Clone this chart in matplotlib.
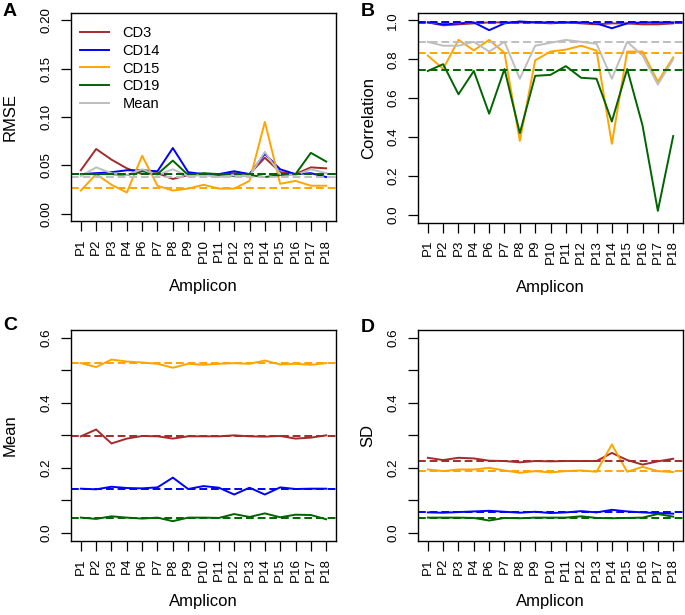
import matplotlib
matplotlib.use("Agg")
import matplotlib.pyplot as plt

plt.rcParams["font.family"] = ["Liberation Sans", "DejaVu Sans"]

amplicons = ["P1", "P2", "P3", "P4", "P6", "P7", "P8", "P9", "P10",
             "P11", "P12", "P13", "P14", "P15", "P16", "P17", "P18"]
series_names = ["CD3", "CD14", "CD15", "CD19", "Mean"]

# Panel A - RMSE
rmse_cd3 = [0.045, 0.067, 0.056, 0.047, 0.041, 0.042, 0.036, 0.040, 0.041,
            0.040, 0.042, 0.041, 0.058, 0.043, 0.041, 0.048, 0.047]
rmse_cd14 = [0.041, 0.042, 0.043, 0.045, 0.045, 0.044, 0.068, 0.043, 0.041,
             0.041, 0.044, 0.041, 0.062, 0.046, 0.041, 0.042, 0.038]
rmse_cd15 = [0.024, 0.041, 0.030, 0.022, 0.060, 0.029, 0.024, 0.026, 0.030,
             0.026, 0.026, 0.034, 0.095, 0.031, 0.034, 0.029, 0.029]
rmse_cd19 = [0.041, 0.041, 0.041, 0.040, 0.044, 0.041, 0.055, 0.040, 0.042,
             0.041, 0.039, 0.040, 0.038, 0.040, 0.041, 0.063, 0.054]
rmse_mean = [0.039, 0.048, 0.042, 0.040, 0.046, 0.040, 0.046, 0.039, 0.040,
             0.038, 0.040, 0.039, 0.064, 0.041, 0.040, 0.046, 0.042]
rmse_ref = [0.041, 0.041, 0.027, 0.041, 0.038]

# Panel B - correlation
cor_cd3 = [0.990, 0.975, 0.980, 0.985, 0.990, 0.990, 0.990, 0.990, 0.985,
           0.990, 0.985, 0.980, 0.985, 0.985, 0.980, 0.980, 0.985]
cor_cd14 = [0.990, 0.980, 0.985, 0.990, 0.950, 0.985, 0.995, 0.990, 0.990,
            0.990, 0.990, 0.985, 0.960, 0.985, 0.990, 0.990, 0.990]
cor_cd15 = [0.819, 0.751, 0.900, 0.846, 0.900, 0.833, 0.380, 0.795, 0.840,
            0.850, 0.870, 0.845, 0.365, 0.840, 0.840, 0.685, 0.810]
cor_cd19 = [0.740, 0.775, 0.620, 0.740, 0.520, 0.750, 0.420, 0.715, 0.720,
            0.765, 0.705, 0.700, 0.480, 0.750, 0.460, 0.020, 0.405]
cor_mean = [0.890, 0.870, 0.870, 0.890, 0.840, 0.890, 0.700, 0.870, 0.885,
            0.900, 0.890, 0.880, 0.700, 0.890, 0.820, 0.670, 0.800]
cor_ref = [0.987, 0.990, 0.835, 0.745, 0.890]

# Panel C - mean
mean_cd3 = [0.297, 0.318, 0.275, 0.290, 0.298, 0.297, 0.290, 0.297, 0.297,
            0.297, 0.300, 0.297, 0.296, 0.298, 0.290, 0.293, 0.300]
mean_cd14 = [0.136, 0.134, 0.142, 0.138, 0.137, 0.140, 0.170, 0.135, 0.144,
             0.139, 0.118, 0.139, 0.118, 0.140, 0.135, 0.136, 0.136]
mean_cd15 = [0.522, 0.510, 0.533, 0.527, 0.524, 0.520, 0.508, 0.520, 0.517,
             0.520, 0.522, 0.520, 0.530, 0.518, 0.520, 0.517, 0.522]
mean_cd19 = [0.047, 0.043, 0.051, 0.047, 0.044, 0.047, 0.036, 0.047, 0.047,
             0.046, 0.058, 0.049, 0.060, 0.048, 0.056, 0.055, 0.042]
mean_ref = [0.297, 0.136, 0.522, 0.047]

# Panel D - SD
sd_cd3 = [0.231, 0.224, 0.231, 0.229, 0.222, 0.221, 0.217, 0.221, 0.220,
          0.221, 0.221, 0.221, 0.246, 0.224, 0.210, 0.220, 0.228]
sd_cd14 = [0.063, 0.062, 0.064, 0.066, 0.068, 0.065, 0.062, 0.065, 0.061,
           0.063, 0.067, 0.063, 0.071, 0.066, 0.063, 0.061, 0.059]
sd_cd15 = [0.195, 0.190, 0.195, 0.195, 0.200, 0.192, 0.185, 0.190, 0.186,
           0.190, 0.192, 0.188, 0.272, 0.188, 0.203, 0.190, 0.187]
sd_cd19 = [0.047, 0.047, 0.047, 0.046, 0.038, 0.046, 0.045, 0.047, 0.047,
           0.047, 0.051, 0.046, 0.045, 0.046, 0.047, 0.058, 0.050]
sd_ref = [0.222, 0.064, 0.190, 0.045]

COLORS = ["#A52A2A", "#0000FF", "#FFA500", "#006400", "#BEBEBE"]

W, H = 685, 615


def px_axes(fig, left, top, right, bottom):
    return fig.add_axes([left / W, 1 - bottom / H,
                         (right - left) / W, (bottom - top) / H])


def draw_panel(ax, series, refs, ymax, yticks, ylabels, ylabel, ylab_x,
               xlab_y):
    x = list(range(1, len(amplicons) + 1))
    for i, vals in enumerate(series):
        ax.plot(x, vals, color=COLORS[i], lw=1.4, label=series_names[i])
    for i, r in enumerate(refs):
        ax.axhline(r, color=COLORS[i], lw=1.4, dashes=(4, 2))

    ax.set_xlim(1 - 0.04 * 16, 17 + 0.04 * 16)
    ax.set_ylim(-0.04 * ymax, ymax * 1.04)
    ax.set_xticks(x)
    ax.set_xticklabels(amplicons, rotation=90, fontsize=9.6,
                       va="top", ha="center")
    ax.set_yticks(yticks)
    ax.set_yticklabels(ylabels, rotation=90, fontsize=9.6, va="center")
    ax.tick_params(direction="out", length=7, width=0.9)
    ax.tick_params(axis="x", pad=5.5)
    ax.tick_params(axis="y", pad=6.5)
    for sp in ax.spines.values():
        sp.set_linewidth(1.0)

    ax.set_xlabel("Amplicon", fontsize=12)
    ax.xaxis.set_label_coords(0.5, xlab_y)
    ax.xaxis.label.set_va("center")
    ax.set_ylabel(ylabel, fontsize=12)
    ax.yaxis.set_label_coords(ylab_x, 0.5)
    ax.yaxis.label.set_va("center")


fig = plt.figure(figsize=(W / 100, H / 100), dpi=100)

ax_a = px_axes(fig, 71, 12.7, 336, 221.5)
ax_b = px_axes(fig, 418, 12.7, 683, 222.5)
ax_c = px_axes(fig, 71, 330, 336, 540.7)
ax_d = px_axes(fig, 418, 330, 683, 540.7)

draw_panel(ax_a, [rmse_cd3, rmse_cd14, rmse_cd15, rmse_cd19, rmse_mean],
           rmse_ref, 0.2, [0, 0.05, 0.10, 0.15, 0.20],
           ["0.00", "0.05", "0.10", "0.15", "0.20"], "RMSE", -0.23, -0.31)
draw_panel(ax_b, [cor_cd3, cor_cd14, cor_cd15, cor_cd19, cor_mean],
           cor_ref, 1.0, [0, 0.2, 0.4, 0.6, 0.8, 1.0],
           ["0.0", "0.2", "0.4", "0.6", "0.8", "1.0"], "Correlation",
           -0.185, -0.31)
draw_panel(ax_c, [mean_cd3, mean_cd14, mean_cd15, mean_cd19],
           mean_ref, 0.6, [0, 0.1, 0.2, 0.3, 0.4, 0.5, 0.6],
           ["0.0", "", "0.2", "", "0.4", "", "0.6"], "Mean", -0.23, -0.29)
draw_panel(ax_d, [sd_cd3, sd_cd14, sd_cd15, sd_cd19],
           sd_ref, 0.6, [0, 0.1, 0.2, 0.3, 0.4, 0.5, 0.6],
           ["0.0", "", "0.2", "", "0.4", "", "0.6"], "SD", -0.189, -0.29)

ax_a.legend(loc="upper left", bbox_to_anchor=(0.035, 0.935), frameon=False,
            fontsize=10.5, handlelength=2.0, handletextpad=0.9,
            labelspacing=0.25, borderpad=0, borderaxespad=0)

for letter, (lx, ly) in zip("ABCD", [(10, 12), (368, 11), (10, 326), (368, 327)]):
    fig.text(lx / W, 1 - ly / H, letter, fontsize=14, fontweight="bold",
             ha="center", va="center")

fig.savefig("out.png", dpi=100)
